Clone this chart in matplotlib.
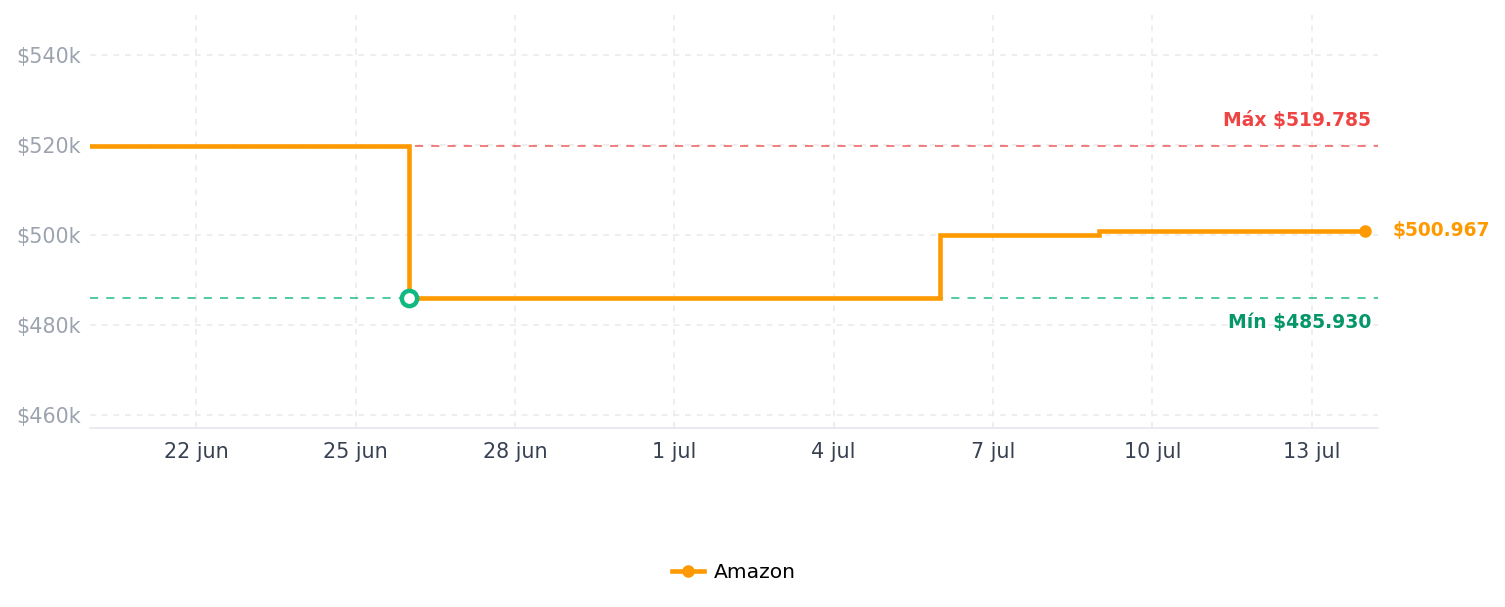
import matplotlib
matplotlib.use("Agg")
import matplotlib.pyplot as plt
import matplotlib.ticker as mticker
import pandas as pd

# price history (step data)
dates = pd.to_datetime(["2025-06-20", "2025-06-26", "2025-07-06", "2025-07-09", "2025-07-14"])
prices = [519785, 485930, 500100, 500967, 500967]

max_price = 519785
min_price = 485930
min_date = pd.Timestamp("2025-06-26")
last_price = 500967

tick_dates = pd.to_datetime(["2025-06-22", "2025-06-25", "2025-06-28", "2025-07-01",
                             "2025-07-04", "2025-07-07", "2025-07-10", "2025-07-13"])
tick_labels = ["22 jun", "25 jun", "28 jun", "1 jul", "4 jul", "7 jul", "10 jul", "13 jul"]
y_ticks = [460000, 480000, 500000, 520000, 540000]

orange = "#ff9900"
red = "#ef4444"
green = "#10b981"
dark_green = "#059669"

fig = plt.figure(figsize=(15.05, 6.07), dpi=100)
ax = fig.add_axes([90 / 1505, 1 - 428 / 607, (1378 - 90) / 1505, (428 - 15) / 607])

ax.axhline(max_price, color=red, lw=1.3, ls=(0, (4.5, 4.5)), alpha=0.75, zorder=2)
ax.axhline(min_price, color=green, lw=1.3, ls=(0, (4.5, 4.5)), alpha=0.8, zorder=2)

ax.step(dates, prices, where="post", color=orange, lw=3.3, zorder=3,
        solid_joinstyle="miter", label="Amazon", marker="o", markevery=[len(prices) - 1],
        ms=8)
ax.plot([min_date], [min_price], "o", ms=11, mfc="white", mec=green, mew=3.2, zorder=4)

ax.annotate(f"Máx ${max_price:,}".replace(",", "."), xy=(1, max_price),
            xycoords=("axes fraction", "data"), xytext=(-7, 25), textcoords="offset pixels",
            ha="right", va="center", color=red, fontsize=13.5, fontweight="bold")
ax.annotate(f"Mín ${min_price:,}".replace(",", "."), xy=(1, min_price),
            xycoords=("axes fraction", "data"), xytext=(-7, -24), textcoords="offset pixels",
            ha="right", va="center", color=dark_green, fontsize=13.5, fontweight="bold")
ax.annotate(f"${last_price:,}".replace(",", "."), xy=(dates[-1], last_price),
            xytext=(28, 0), textcoords="offset pixels",
            ha="left", va="center", color=orange, fontsize=13.4, fontweight="bold",
            annotation_clip=False)

ax.set_xlim(pd.Timestamp("2025-06-20"), pd.Timestamp("2025-07-14 06:00"))
ax.set_ylim(457100, 548900)

ax.set_xticks(tick_dates)
ax.set_xticklabels(tick_labels)
ax.set_yticks(y_ticks)
ax.yaxis.set_major_formatter(mticker.FuncFormatter(lambda v, p: f"${v / 1000:.0f}k"))

ax.tick_params(axis="x", length=0, pad=10, labelsize=14.9, labelcolor="#374151")
ax.tick_params(axis="y", length=0, pad=6.5, labelsize=14.9, labelcolor="#9ca3af")

ax.grid(True, color="#ebebeb", lw=1.2, ls=(0, (3.5, 3.5)))
ax.set_axisbelow(True)
for s in ["top", "right", "left"]:
    ax.spines[s].set_visible(False)
ax.spines["bottom"].set_color("#e5e7eb")
ax.spines["bottom"].set_linewidth(1.2)

ax.legend(loc="center", bbox_to_anchor=(0.5, -0.349), frameon=False, fontsize=14.6,
          handlelength=1.6, handletextpad=0.5)

fig.savefig("out.png", dpi=100, facecolor="white")
